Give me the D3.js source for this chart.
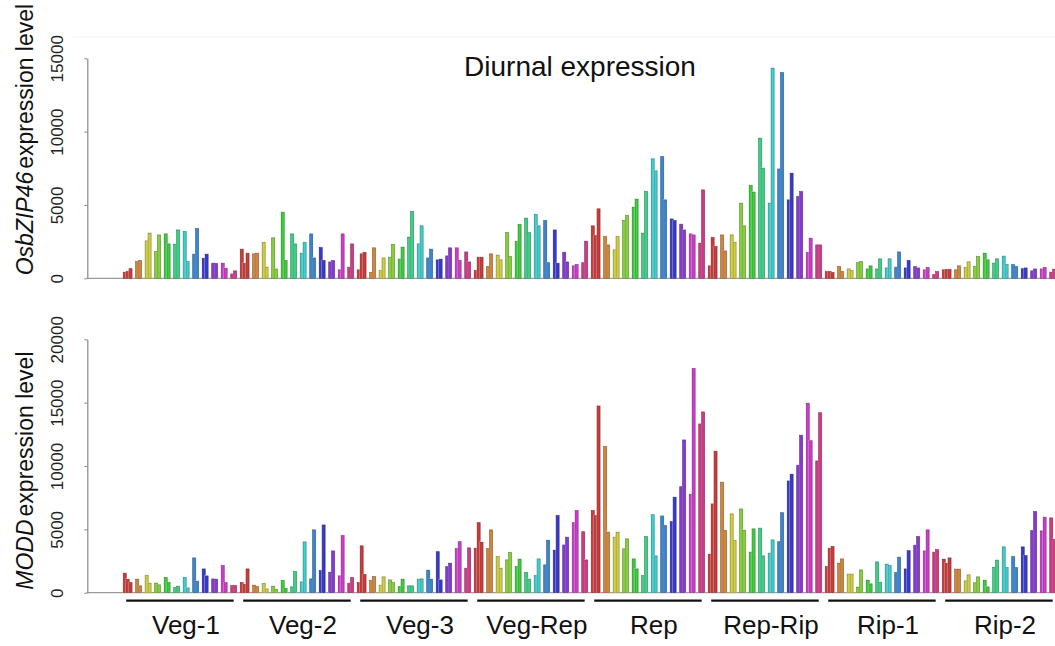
<!DOCTYPE html>
<html><head><meta charset="utf-8">
<script src="https://cdn.jsdelivr.net/npm/d3@7"></script>
<style>body{margin:0;background:#fff;} svg{display:block;font-family:"Liberation Sans",Arial,Helvetica,sans-serif;}</style>
</head><body><svg id="c" width="1055" height="646"></svg>
<script>
// ---------- data ----------
const groups = ["Veg-1","Veg-2","Veg-3","Veg-Rep","Rep","Rep-Rip","Rip-1","Rip-2"];
// 12 time-of-day slots per stage; first slot has 3 bars, the others 2
const barsPerSlot = [3,2,2,2,2,2,2,2,2,2,2,2];
const yTicksTop = [0,5000,10000,15000];
const yTicksBottom = [0,5000,10000,15000,20000];

// OsbZIP46 expression, one row per stage (25 bars)
const zip46 = [
  [400,450,650, 1130,1200, 2540,3070, 1810,2950, 3020,2340, 2320,3290, 3180,1130, 1640,3380, 1360,1640, 1020,1000, 1020,680, 290,500],
  [1980,1020,1700, 1660,1700, 2430,750, 2750,630, 4500,1200, 3020,2340, 1700,2430, 3020,1380, 2090,1200, 1110,1200, 570,3020, 750,2340],
  [570,1660,1750, 380,2070, 520,1380, 1430,2290, 1300,2110, 2800,4540, 2340,3570, 1380,1980, 1250,1300, 1520,2070, 2070,1200, 1790,1110],
  [520,1430,1430, 790,1660, 1570,1250, 3110,1470, 2500,3660, 4090,3110, 4340,3570, 3930,1060, 3290,1020, 1770,1110, 840,930, 1060,2520],
  [3570,2910,4730, 2840,2270, 1930,2840, 3930,4270, 4840,5390, 3070,5910, 8140,7320, 8290,5340, 4040,3930, 3680,3290, 3020,2950, 2390,6020],
  [840,2770,2160, 2950,1860, 2950,2450, 5110,3570, 6320,5870, 9550,7500, 5110,14320, 7450,14020, 5340,7160, 5570,5910, 1750,2730, 2270,2270],
  [450,450,380, 790,450, 630,520, 1060,1130, 630,840, 630,1320, 700,1320, 750,1790, 700,1200, 790,700, 570,720, 250,450],
  [570,590,590, 570,840, 720,1110, 790,1470, 1700,1250, 1020,1320, 1500,930, 930,790, 650,700, 500,630, 630,720, 410,610]
];
// MODD expression, one row per stage (25 bars)
const modd = [
  [1530,1060,790, 1060,530, 1340,740, 740,610, 1180,790, 390,500, 1180,370, 2740,900, 1870,1320, 1080,1060, 2130,790, 550,550],
  [790,660,1870, 580,470, 710,290, 500,240, 950,320, 450,1660, 840,4000, 1080,4950, 1740,5340, 1610,3290, 1320,4500, 740,1180],
  [790,3690,1420, 950,1260, 580,1240, 1000,790, 470,1060, 530,530, 1060,1080, 1770,1060, 3230,1000, 2050,2320, 3470,4020, 1920,3530],
  [3500,5520,3980, 3470,4950, 2840,1920, 2580,3160, 2050,2640, 1580,1060, 1340,2660, 2190,4130, 3350,6080, 3760,4370, 5520,6470, 4810,2580],
  [6470,6080,14730, 11520,4770, 4370,4770, 3450,4240, 2660,1870, 1340,4420, 6150,2900, 6050,5290, 5600,7530, 8360,12050, 7760,17680, 13310,14260],
  [3030,7000,11160, 8710,4890, 6210,4100, 6600,4920, 3190,5030, 5080,2900, 3110,4160, 4020,6310, 8810,9340, 10050,12420, 14940,11990, 10390,14200],
  [2050,3500,3630, 2320,2660, 1450,1450, 430,1790, 980,690, 2420,820, 2240,2130, 1580,2790, 1870,3310, 3740,4420, 3290,4950, 3190,3390],
  [2640,2320,2740, 1850,1850, 920,1400, 770,1240, 980,450, 2000,2560, 3610,1970, 2840,1970, 3610,2920, 4890,6390, 4870,5950, 5900,4200]
];

// ---------- style / layout ----------
const slotHues = d3.range(12).map(i => i * 30);
const palette = slotHues.map(h => d3.hsl(h, 0.62, 0.52).formatHex());

const svg = d3.select("#c");
const GAP = 1.276;                          // gap between slots, in bar widths
const nBars = d3.sum(barsPerSlot);
const U = nBars + barsPerSlot.length * GAP; // units per stage
const slotOfBar = [];
barsPerSlot.forEach((n, s) => { for (let i = 0; i < n; i++) slotOfBar.push(s); });

const x = d3.scaleLinear().domain([0, groups.length * U]).range([123.3, 123.3 + groups.length * 117]);
const unitOf = (gi, k) => gi * U + k + slotOfBar[k] * GAP;

const axisX = 87.3;

function panel(data, yScale, ticks, gene) {
  const g = svg.append("g");
  const y0 = yScale(0);
  // baseline
  g.append("line").attr("x1", axisX).attr("x2", 1055).attr("y1", y0).attr("y2", y0)
    .attr("stroke", "#9a9a9a").attr("stroke-width", 1.2);
  // bars
  data.forEach((row, gi) => {
    row.forEach((v, k) => {
      const u = unitOf(gi, k);
      const x0 = x(u), w = x(u + 1) - x(u);
      const yt = yScale(v);
      const col = palette[slotOfBar[k]];
      g.append("rect").attr("x", x0 - 0.6).attr("y", yt - 0.8).attr("width", w + 1.2).attr("height", y0 - yt + 0.8)
        .attr("fill", "#cfcfcf");
      g.append("rect").attr("x", x0).attr("y", yt).attr("width", w).attr("height", y0 - yt)
        .attr("fill", col).attr("stroke", d3.color(col).darker(1.2)).attr("stroke-width", 0.5);
    });
  });
  // y axis
  const ax = g.append("g").attr("transform", `translate(${axisX},0)`)
    .call(d3.axisLeft(yScale).tickValues(ticks).tickSize(3).tickSizeOuter(0).tickFormat(d3.format("d")));
  ax.select(".domain").attr("stroke", "#888").attr("stroke-width", 1.2);
  ax.selectAll(".tick line").attr("stroke", "#888");
  ax.selectAll(".tick text").attr("transform", "rotate(-90)").attr("x", 0).attr("y", -24.5).attr("dy", 0)
    .attr("text-anchor", "middle").attr("font-size", 17).attr("fill", "#222")
    .attr("font-family", '"Liberation Sans",Arial,sans-serif');
  // y title
  const t = g.append("text").attr("transform", `translate(33,${y0 - 3}) rotate(-90)`)
    .attr("font-size", 23).attr("fill", "#111");
  t.append("tspan").attr("font-style", "italic").text(gene);
  t.append("tspan").attr("dx", 3).text("expression level");
}

const yTop = d3.scaleLinear().domain([0, 15000]).range([278.3, 58.3]);
const yBot = d3.scaleLinear().domain([0, 20000]).range([592.7, 339.3]);

// faint panel frame
svg.append("line").attr("x1", 73).attr("x2", 1055).attr("y1", 37).attr("y2", 37).attr("stroke", "#f2f2f2");

panel(zip46, yTop, yTicksTop, "OsbZIP46");
panel(modd, yBot, yTicksBottom, "MODD");

// title
svg.append("text").attr("x", 580).attr("y", 76).attr("text-anchor", "middle")
  .attr("font-size", 28).attr("fill", "#111").text("Diurnal expression");

// stage underlines and labels
groups.forEach((name, gi) => {
  const xs = x(gi * U + 1), xe = x(gi * U + U - GAP - 1);
  svg.append("line").attr("x1", xs).attr("x2", xe).attr("y1", 600.7).attr("y2", 600.7)
    .attr("stroke", "#111").attr("stroke-width", 2.2);
  svg.append("text").attr("x", (xs + xe) / 2 + 6).attr("y", 634).attr("text-anchor", "middle")
    .attr("font-size", 26).attr("fill", "#111").text(name);
});
</script></body></html>
